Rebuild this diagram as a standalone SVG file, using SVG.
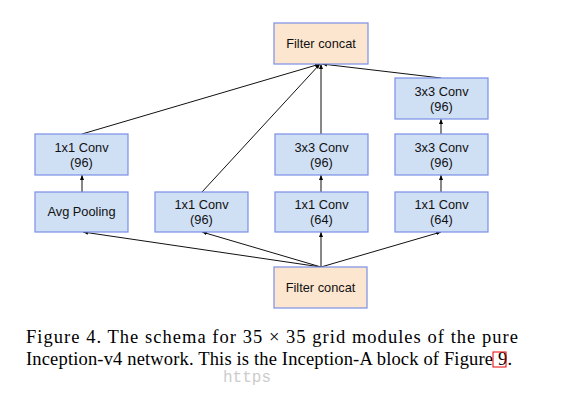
<svg xmlns="http://www.w3.org/2000/svg" width="561" height="400" viewBox="0 0 561 400">
<defs>
<style>
.blue{fill:#cfdff4;stroke:#7b8fe6;stroke-width:1.2}
.peach{fill:#fde6cf;stroke:#7b8fe6;stroke-width:1.2}
.lbl{font-family:"Liberation Sans",Arial,sans-serif;font-size:12.8px;fill:#111;text-anchor:middle}
.cap{font-family:"Liberation Serif","Times New Roman",serif;font-size:18.5px;fill:#000}
.edge{stroke:#111;stroke-width:1;fill:none;marker-end:url(#ah)}
</style>
<marker id="ah" viewBox="0 0 10 10" refX="10" refY="5" markerWidth="5" markerHeight="5" orient="auto" markerUnits="userSpaceOnUse">
<path d="M0,1 L10,5 L0,9 Z" fill="#000"/>
</marker>
</defs>
<rect width="561" height="400" fill="#fff"/>
<g id="connectors">
<line class="edge" x1="321" y1="267" x2="83" y2="232"/>
<line class="edge" x1="321" y1="267" x2="202" y2="232"/>
<line class="edge" x1="321" y1="267" x2="321" y2="232"/>
<line class="edge" x1="321" y1="267" x2="441" y2="232"/>
<line class="edge" x1="82" y1="192" x2="82" y2="175"/>
<line class="edge" x1="321" y1="192" x2="321" y2="175"/>
<line class="edge" x1="441" y1="192" x2="441" y2="175"/>
<line class="edge" x1="441" y1="134" x2="441" y2="119"/>
<line class="edge" x1="82" y1="134" x2="320" y2="64"/>
<line class="edge" x1="202" y1="192" x2="320" y2="64"/>
<line class="edge" x1="321" y1="134" x2="321" y2="64"/>
<line class="edge" x1="441" y1="78" x2="322" y2="64"/>
</g>
<g id="concat-top"><rect class="peach" x="274" y="23" width="94" height="41"/><text class="lbl" x="321" y="48">Filter concat</text></g>
<g id="conv1x1-pool"><rect class="blue" x="35" y="134" width="93" height="41"/><text class="lbl" x="81.5" y="152">1x1 Conv</text><text class="lbl" x="81.5" y="167">(96)</text></g>
<g id="avgpool"><rect class="blue" x="35" y="192" width="93" height="40"/><text class="lbl" x="81.5" y="216">Avg Pooling</text></g>
<g id="conv1x1-96"><rect class="blue" x="155" y="192" width="93" height="40"/><text class="lbl" x="201.5" y="209">1x1 Conv</text><text class="lbl" x="201.5" y="224">(96)</text></g>
<g id="conv3x3-b3"><rect class="blue" x="275" y="134" width="93" height="41"/><text class="lbl" x="321.5" y="152">3x3 Conv</text><text class="lbl" x="321.5" y="167">(96)</text></g>
<g id="conv1x1-b3"><rect class="blue" x="275" y="192" width="93" height="40"/><text class="lbl" x="321.5" y="209">1x1 Conv</text><text class="lbl" x="321.5" y="224">(64)</text></g>
<g id="conv3x3-b4-top"><rect class="blue" x="395" y="78" width="93" height="41"/><text class="lbl" x="441.5" y="96">3x3 Conv</text><text class="lbl" x="441.5" y="111">(96)</text></g>
<g id="conv3x3-b4-mid"><rect class="blue" x="395" y="134" width="93" height="41"/><text class="lbl" x="441.5" y="152">3x3 Conv</text><text class="lbl" x="441.5" y="167">(96)</text></g>
<g id="conv1x1-b4"><rect class="blue" x="395" y="192" width="93" height="40"/><text class="lbl" x="441.5" y="209">1x1 Conv</text><text class="lbl" x="441.5" y="224">(64)</text></g>
<g id="concat-bottom"><rect class="peach" x="274" y="267" width="93" height="41"/><text class="lbl" x="320.5" y="292">Filter concat</text></g>
<g id="caption">
<text class="cap" x="26" y="343" textLength="492" lengthAdjust="spacing">Figure 4. The schema for 35 × 35 grid modules of the pure</text>
<text class="cap" x="26" y="365" textLength="486" lengthAdjust="spacing">Inception-v4 network. This is the Inception-A block of Figure 9.</text>
<rect x="493" y="352" width="13" height="15" fill="none" stroke="#e00" stroke-width="1"/>
<text x="223" y="382" font-family="Liberation Mono,monospace" font-size="16" fill="#ccc">https</text>
</g>
</svg>
